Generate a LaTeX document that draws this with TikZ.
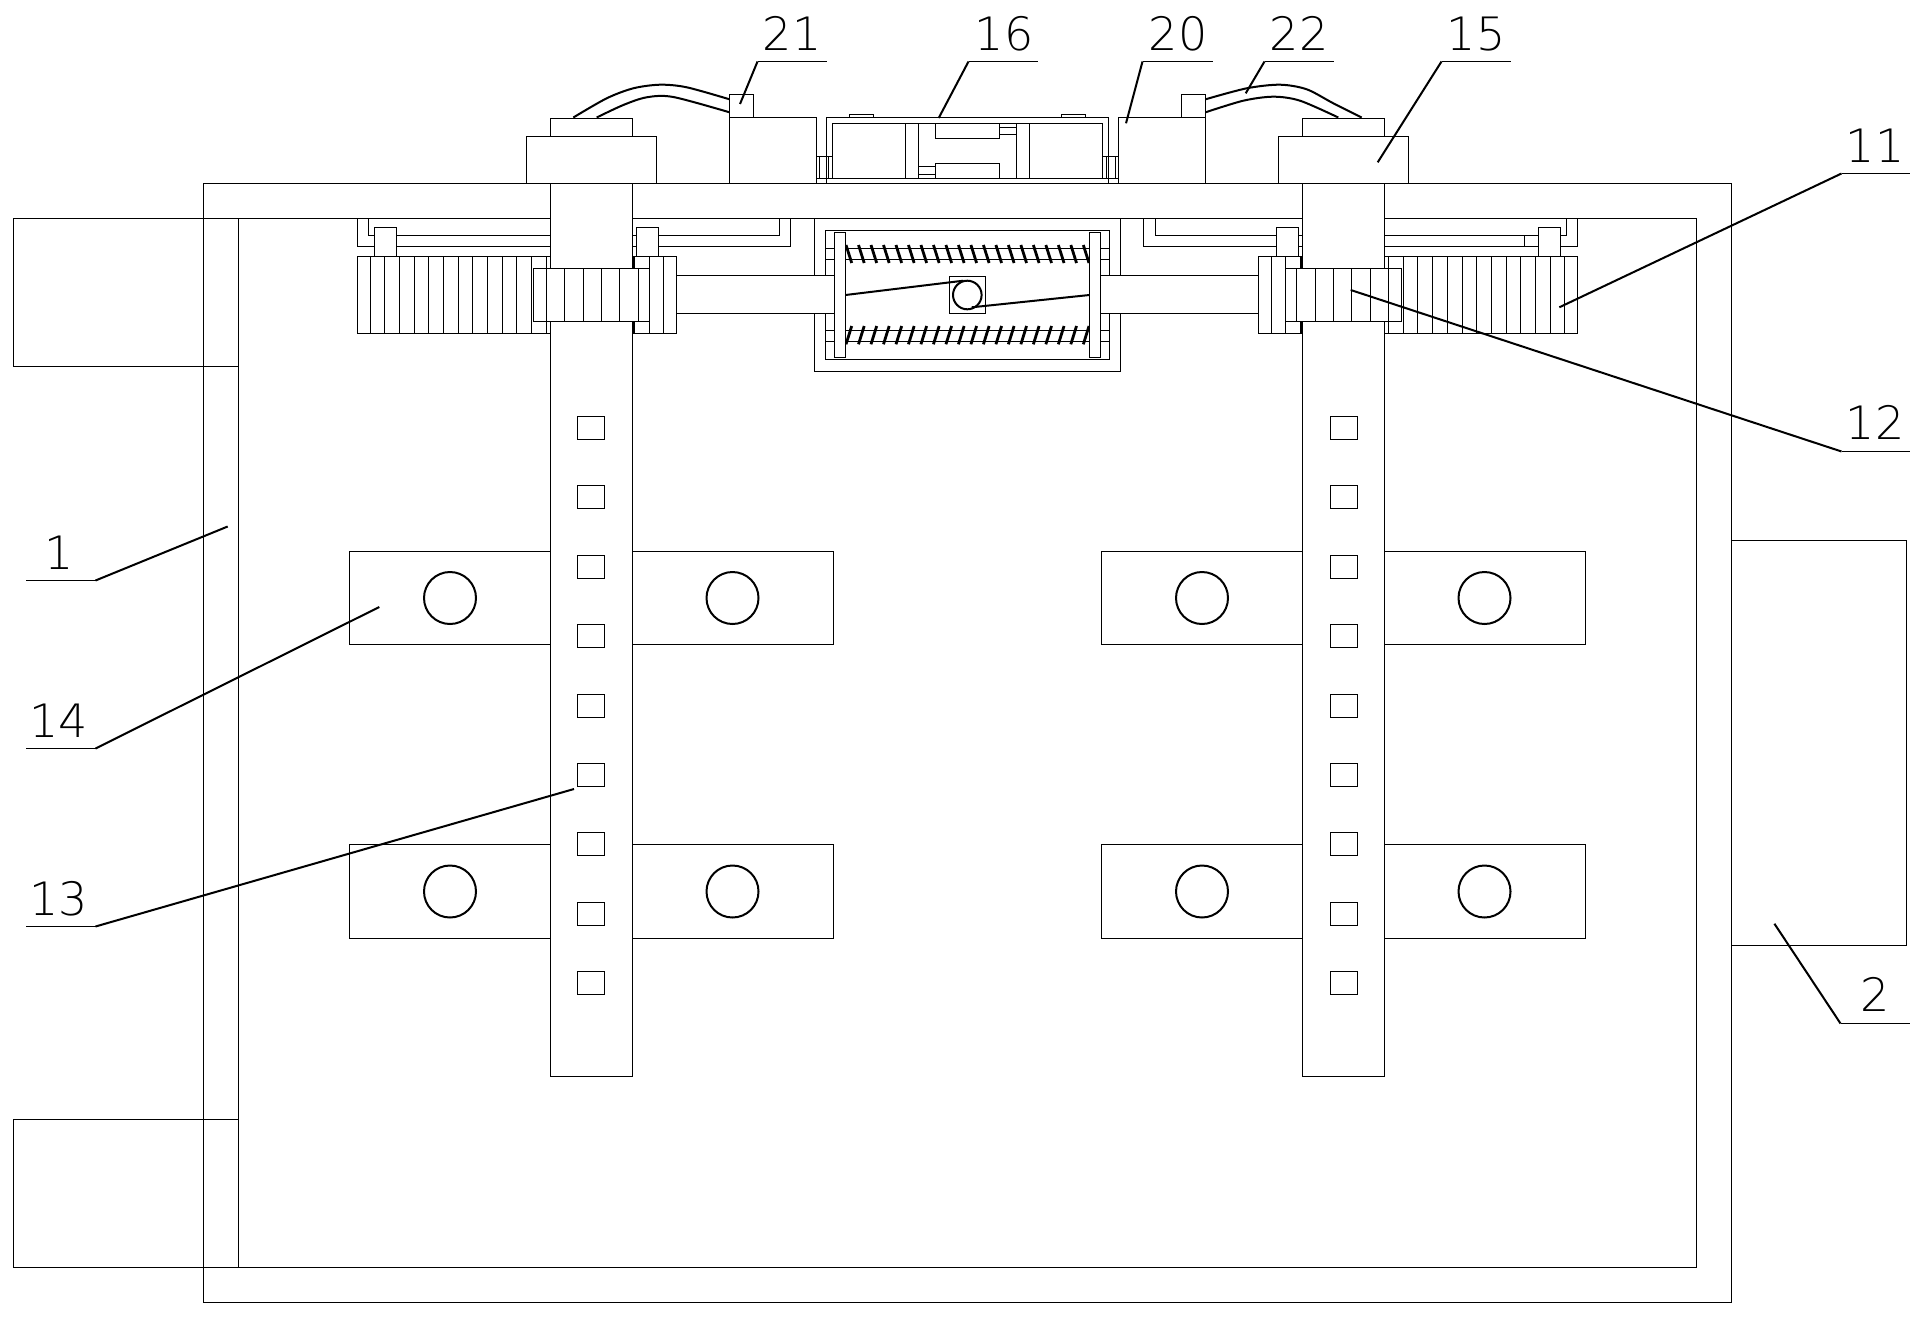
\documentclass[tikz,border=0pt]{standalone}
\usepackage{fontspec}
\newfontfamily\lblfont{DejaVu Sans ExtraLight}
\tikzset{
  part/.style={draw=black,line width=0.6pt,fill=white},
  wire/.style={draw=black,line width=0.6pt},
  heavy/.style={draw=black,line width=1pt},
  coil/.style={draw=black,line width=1.4pt},
  leader/.style={draw=black,line width=1pt},
  leadrun/.style={draw=black,line width=0.6pt},
  lab/.style={anchor=base,inner sep=0pt,font=\lblfont\fontsize{23}{23}\selectfont},
}
\begin{document}
\begin{tikzpicture}[x=0.5pt,y=-0.5pt,line join=miter]
\useasboundingbox[fill=white] (0,0) rectangle (1926,1317);
% frame
\draw[wire] (203.5,183.5) rectangle (1731.5,1302.5);
\draw[wire] (238.5,218.5) rectangle (1696.5,1267.5);
\draw[wire] (238.5,218.5) -- (13.5,218.5) -- (13.5,366.5) -- (238.5,366.5);
\draw[wire] (238.5,1119.5) -- (13.5,1119.5) -- (13.5,1267.5) -- (238.5,1267.5);
\draw[wire] (1731.5,540.5) -- (1906.5,540.5) -- (1906.5,945.5) -- (1731.5,945.5);
% clamp plates
\foreach \yy/\yb in {551.5/644.5,844.5/938.5}{
  \draw[part] (349.5,\yy) rectangle (833.5,\yb);
  \draw[part] (1101.5,\yy) rectangle (1585.5,\yb);
}
\foreach \yy in {598,891.5}
  \foreach \xx in {450,732.5,1202,1484.5}
    \draw[heavy] (\xx,\yy) circle[radius=26];
% pipes
\draw[wire] (357.5,218.5) -- (357.5,246.5) -- (550.5,246.5);
\draw[wire] (368.5,218.5) -- (368.5,235.5) -- (550.5,235.5);
\draw[wire] (632.5,246.5) -- (790.5,246.5) -- (790.5,218.5);
\draw[wire] (632.5,235.5) -- (779.5,235.5) -- (779.5,218.5);
\draw[wire] (1143.5,218.5) -- (1143.5,246.5) -- (1302.5,246.5);
\draw[wire] (1155.5,218.5) -- (1155.5,235.5) -- (1302.5,235.5);
\draw[wire] (1384.5,246.5) -- (1577.5,246.5) -- (1577.5,218.5);
\draw[wire] (1384.5,235.5) -- (1566.5,235.5) -- (1566.5,218.5);
\draw[wire] (1524.5,235.5) -- (1524.5,246.5);
\foreach \xa/\xb in {374.5/396.5,636.5/658.5,1276.5/1298.5,1538.5/1560.5}
  \draw[part] (\xa,227.5) rectangle (\xb,256.5);
% outer racks
\draw[part] (357.5,256.5) rectangle (676.5,333.5);
\foreach \z in {92,134,178,223,266,311,356,398,443,488,530,575,620,882,928,970}
  \draw[wire] ({340+\z/3},256.5) -- ({340+\z/3},333.5);
\draw[part] (1258.5,256.5) rectangle (1577.5,333.5);
\foreach \z in {515,556,603,865,910,952,997,1043,1088,1130,1175,1220,1262,1307,1352,1394}
  \draw[wire] ({1100+\z/3},256.5) -- ({1100+\z/3},333.5);
% spring housing
\draw[part] (814.5,218.5) rectangle (1120.5,371.5);
\draw[part] (825.5,230.5) rectangle (1109.5,359.5);
\foreach \yy in {248.5,259.5,330.5,341.5}
  \draw[wire] (825.5,\yy) -- (1109.5,\yy);
\foreach \i in {0,...,19}{
  \draw[coil] ({846+\i*12.49},245) -- ({851.7+\i*12.49},263);
  \draw[coil] ({851.7+\i*12.49},326) -- ({846+\i*12.49},344.3);
}
\draw[part] (676.5,275.5) rectangle (834.5,313.5);
\draw[part] (1100.5,275.5) rectangle (1258.5,313.5);
\draw[part] (834.5,232.5) rectangle (845.5,357.5);
\draw[part] (1089.5,232.5) rectangle (1100.5,357.5);
\draw[wire] (949.5,276.5) rectangle (985.5,313.5);
\draw[heavy] (967.3,295) circle[radius=14.3];
\draw[heavy] (845.5,295) -- (963.3,280.7);
\draw[heavy] (1089.5,295) -- (971.7,307.3);
% columns
\draw[part] (550.5,183.5) rectangle (632.5,1076.5);
\draw[part] (1302.5,183.5) rectangle (1384.5,1076.5);
\foreach \yy in {416.5,485.5,555.5,624.5,694.5,763.5,832.5,902.5,971.5}{
  \draw[wire] (577.5,\yy) rectangle (604.5,{\yy+23});
  \draw[wire] (1330.5,\yy) rectangle (1357.5,{\yy+23});
}
% inner racks
\draw[part] (533.5,268.5) rectangle (649.5,321.5);
\foreach \z in {620,673,731,785,838,895}
  \draw[wire] ({340+\z/3},268.5) -- ({340+\z/3},321.5);
\draw[part] (1285.5,268.5) rectangle (1401.5,321.5);
\foreach \z in {590,647,701,755,812,865}
  \draw[wire] ({1100+\z/3},268.5) -- ({1100+\z/3},321.5);
% blocks on top of the frame
\draw[part] (526.5,136.5) rectangle (656.5,183.5);
\draw[part] (550.5,118.5) rectangle (632.5,136.5);
\draw[part] (1278.5,136.5) rectangle (1408.5,183.5);
\draw[part] (1302.5,118.5) rectangle (1384.5,136.5);
\draw[part] (729.5,117.5) rectangle (816.5,183.5);
\draw[part] (729.5,94.5) rectangle (753.5,117.5);
\draw[part] (1118.5,117.5) rectangle (1205.5,183.5);
\draw[part] (1181.5,94.5) rectangle (1205.5,117.5);
% cables
\draw[heavy] plot[smooth] coordinates {(573.3,117.5) (606.7,98.3) (633.3,88.3) (660,84.7) (686.7,87.3) (729.5,99.3)};
\draw[heavy] plot[smooth] coordinates {(596.7,117.5) (623.3,105) (646.7,97.3) (673.3,97) (729.5,112.3)};
\draw[heavy] plot[smooth] coordinates {(1205.5,99.3) (1246.7,88.3) (1280,84.7) (1306.7,89.3) (1333.3,103.3) (1361.7,117.5)};
\draw[heavy] plot[smooth] coordinates {(1205.5,112.3) (1243.3,100.7) (1273.3,96.7) (1300,100.7) (1338.3,117.5)};
% cylinder unit
\draw[wire] (826.5,183.5) -- (826.5,117.5) -- (1108.5,117.5) -- (1108.5,183.5);
\draw[wire] (816.5,178.5) -- (1118.5,178.5);
\draw[wire] (832.5,178.5) -- (832.5,123.5) -- (1102.5,123.5) -- (1102.5,178.5);
\draw[wire] (816.5,156.5) -- (832.5,156.5);
\draw[wire] (1102.5,156.5) -- (1118.5,156.5);
\foreach \xx in {819.5,828.5,1106.5,1115.5}
  \draw[wire] (\xx,156.5) -- (\xx,178.5);
\foreach \xx in {905.5,918.5,1016.5,1029.5}
  \draw[wire] (\xx,123.5) -- (\xx,178.5);
\draw[wire] (849.5,117.5) -- (849.5,114.5) -- (873.5,114.5) -- (873.5,117.5);
\draw[wire] (1061.5,117.5) -- (1061.5,114.5) -- (1085.5,114.5) -- (1085.5,117.5);
\draw[wire] (935.5,123.5) rectangle (999.5,138.5);
\draw[wire] (935.5,163.5) rectangle (999.5,178.5);
\draw[wire] (999.5,127.5) -- (1016.5,127.5);
\draw[wire] (999.5,134.5) -- (1016.5,134.5);
\draw[wire] (918.5,166.5) -- (935.5,166.5);
\draw[wire] (918.5,174.5) -- (935.5,174.5);
% labels
\node[lab] (n21) at (792,50) {21};
\node[lab] (n16) at (1004,50) {16};
\node[lab] (n20) at (1178,50) {20};
\node[lab] (n22) at (1299,50) {22};
\node[lab] (n15) at (1476,50) {15};
\node[lab] (n11) at (1875,162) {11};
\node[lab] (n12) at (1875,439.5) {12};
\node[lab] (n1) at (59,569.5) {1};
\node[lab] (n14) at (59,737) {14};
\node[lab] (n13) at (59,915) {13};
\node[lab] (n2) at (1875,1011.7) {2};
% leaders
\foreach \ax/\ay/\bx/\by/\cx in {
  740/104/757.5/61.5/826.5,
  938.7/118/968.5/61.5/1037.5,
  1126/123.3/1142.5/61.5/1212.5,
  1245.7/93.3/1264.5/61.5/1333.5,
  1377.7/162.3/1441.5/61.5/1510.5,
  1559.3/307.3/1841.5/173.5/1909.5,
  1350.7/290/1841.5/451.5/1909.5,
  227.7/526.5/95.5/580.5/25.5,
  379.3/607/95.5/748.5/25.5,
  574/789/95.5/926.5/25.5,
  1774.4/923.7/1840.5/1023.5/1909.5}{
  \draw[leader] (\ax,\ay) -- (\bx,\by);
  \draw[leadrun] (\bx,\by) -- (\cx,\by);
}
\end{tikzpicture}
\end{document}
